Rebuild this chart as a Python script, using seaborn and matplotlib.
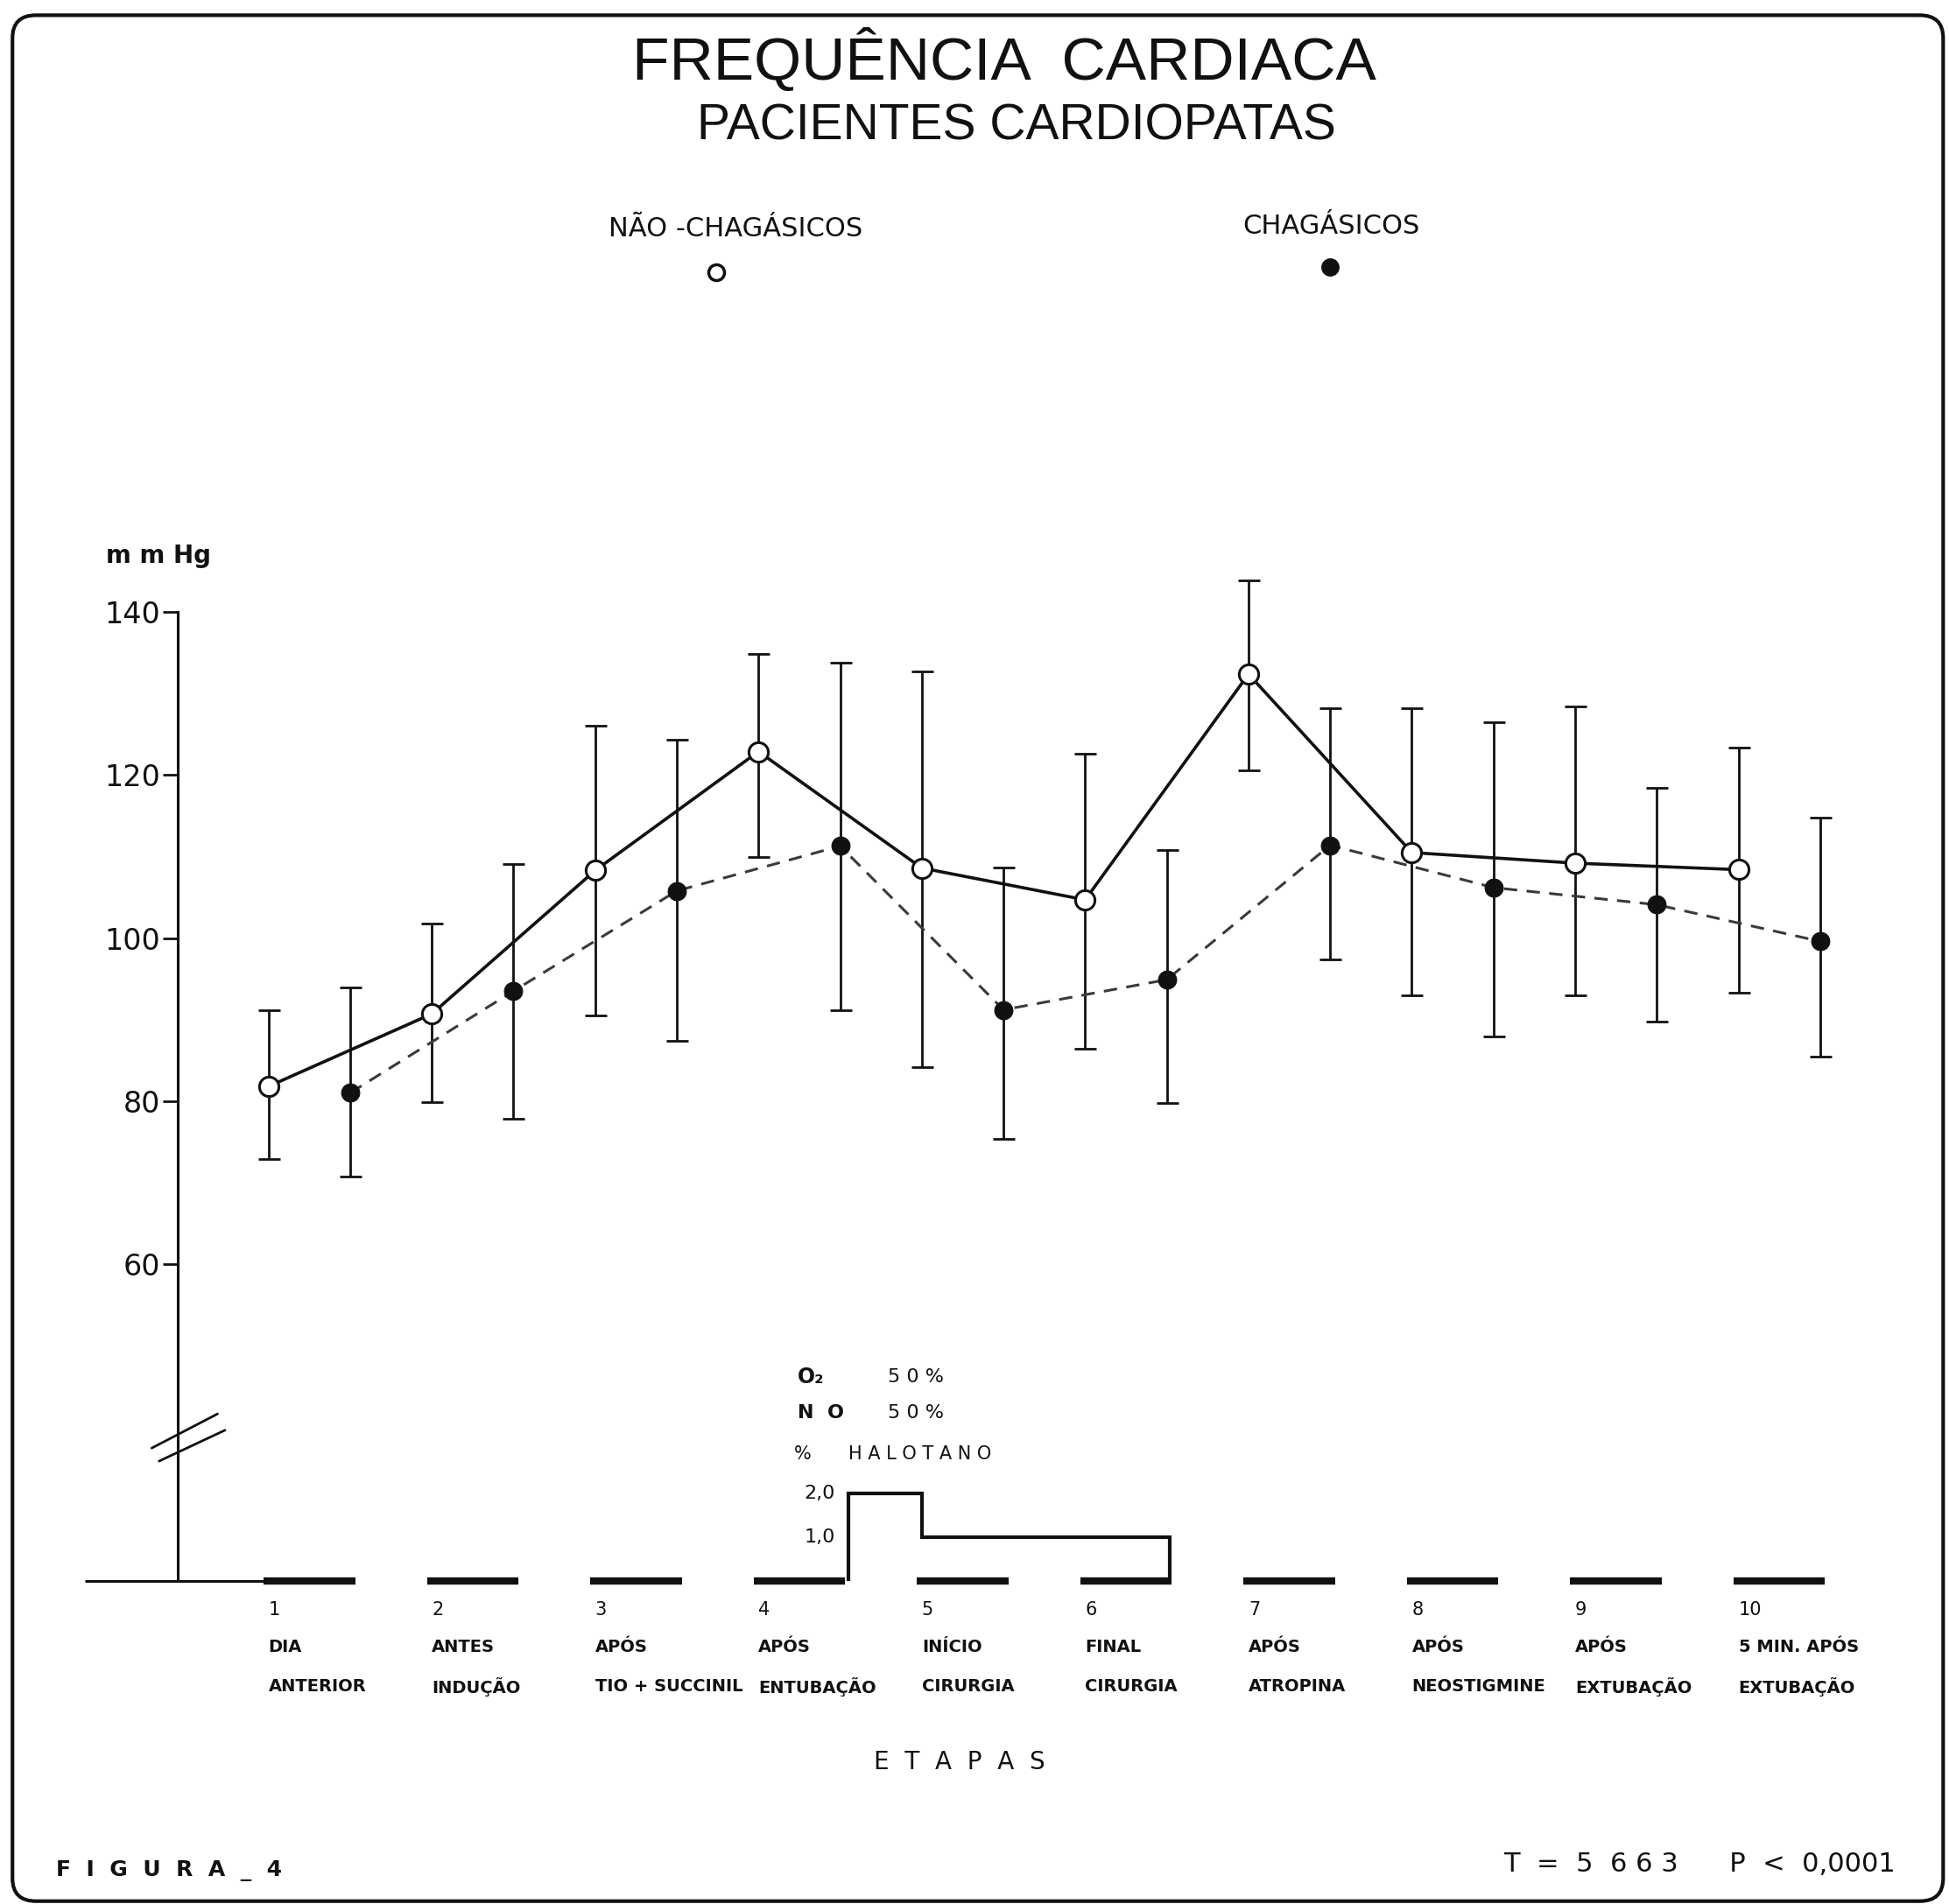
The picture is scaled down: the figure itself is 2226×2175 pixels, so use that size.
import numpy as np
import pandas as pd
import matplotlib.pyplot as plt
import seaborn as sns
from matplotlib.lines import Line2D
from matplotlib.patches import FancyBboxPatch
from matplotlib.transforms import blended_transform_factory

# etapas 1..10 ; chagasicos are drawn half a step to the right of each stage
stages = [1, 2, 3, 4, 5, 6, 7, 8, 9, 10]
stage_top = ["DIA", "ANTES", "APÓS", "APÓS", "INÍCIO", "FINAL", "APÓS", "APÓS", "APÓS", "5 MIN. APÓS"]
stage_bottom = ["ANTERIOR", "INDUÇÃO", "TIO + SUCCINIL", "ENTUBAÇÃO", "CIRURGIA",
                "CIRURGIA", "ATROPINA", "NEOSTIGMINE", "EXTUBAÇÃO", "EXTUBAÇÃO"]

# nao-chagasicos (open circles, solid line)
nao_mean = [81.8, 90.7, 108.3, 122.9, 108.6, 104.7, 132.4, 110.5, 109.2, 108.4]
nao_low = [72.9, 79.9, 90.5, 110.0, 84.2, 86.4, 120.6, 93.0, 93.0, 93.3]
nao_high = [91.1, 101.8, 126.1, 134.9, 132.7, 122.6, 143.9, 128.2, 128.4, 123.4]

# chagasicos (filled circles, dashed line)
chag_mean = [81.0, 93.5, 105.8, 111.3, 91.2, 94.9, 111.4, 106.2, 104.1, 99.6]
chag_low = [70.7, 77.8, 87.4, 91.1, 75.4, 79.8, 97.4, 87.9, 89.8, 85.5]
chag_high = [93.9, 109.1, 124.4, 133.8, 108.7, 110.8, 128.2, 126.5, 118.4, 114.8]

# % halotano step (edges on the stage axis)
hal_edges = [4.55, 5.0, 6.52]
hal_levels = [2.0, 1.0]

y_ticks = [60, 80, 100, 120, 140]

sns.set_theme(style="white")
plt.rcParams["font.family"] = ["DejaVu Sans"]
narrow = ["Liberation Sans Narrow", "Liberation Sans", "DejaVu Sans"]
ink = "#111111"

fig = plt.figure(figsize=(22.26, 21.75), dpi=100)
fig.patch.set_facecolor("white")

ax = fig.add_axes([0.0434, 0.1697, 0.9324, 0.5601])
ax.set_xlim(-0.126, 11.0)
ax.set_ylim(21.1, 152)
ax.set_facecolor("none")

# error bars first so markers sit on top
ax.errorbar(stages, nao_mean,
            yerr=[np.subtract(nao_mean, nao_low), np.subtract(nao_high, nao_mean)],
            fmt="none", ecolor=ink, elinewidth=2, capsize=9, capthick=2, zorder=3)
chag_x = np.array(stages) + 0.5
ax.errorbar(chag_x, chag_mean,
            yerr=[np.subtract(chag_mean, chag_low), np.subtract(chag_high, chag_mean)],
            fmt="none", ecolor=ink, elinewidth=2, capsize=9, capthick=2, zorder=3)

df_nao = pd.DataFrame({"etapa": stages, "fc": nao_mean})
df_chag = pd.DataFrame({"etapa": chag_x, "fc": chag_mean})

sns.lineplot(data=df_nao, x="etapa", y="fc", ax=ax, estimator=None, sort=False,
             color=ink, lw=2.6, marker="o", markersize=16, markerfacecolor="white",
             markeredgecolor=ink, markeredgewidth=2.2, zorder=5)
sns.lineplot(data=df_chag, x="etapa", y="fc", ax=ax, estimator=None, sort=False,
             color="#3a3a3a", lw=2.2, linestyle=(0, (5, 3.5)), marker="o", markersize=15,
             markerfacecolor=ink, markeredgecolor=ink, zorder=4)

# axis styling: only a left spine, placed just left of stage 1
for side in ["top", "right", "bottom"]:
    ax.spines[side].set_visible(False)
ax.spines["left"].set_position(("data", 0.444))
ax.spines["left"].set_bounds(21.1, 140)
ax.spines["left"].set_color(ink)
ax.spines["left"].set_linewidth(2.2)
ax.set_yticks(y_ticks)
ax.set_yticklabels([str(t) for t in y_ticks])
ax.set_xticks([])
ax.tick_params(axis="y", direction="out", length=12, width=2, color=ink,
               labelsize=24, pad=2, labelcolor=ink, left=True)
ax.set_xlabel("")
ax.set_ylabel("")
ax.grid(False)

# axis break marks
ax.plot([0.285, 0.688], [37.4, 41.6], color=ink, lw=2, clip_on=False, zorder=6)
ax.plot([0.33, 0.734], [35.8, 39.6], color=ink, lw=2, clip_on=False, zorder=6)

# halothane inset shares the stage axis
hx = ax.twinx()
hx.set_ylim(0, 24.51)
hx.set_facecolor("none")
for side in hx.spines:
    hx.spines[side].set_visible(False)
hx.set_yticks([])
hx.set_xticks([])
hx.grid(False)

stage_arr = np.array(stages, dtype=float)
hx.stairs(hal_levels, hal_edges, baseline=0, color=ink, lw=3, fill=False)
hx.hlines(np.zeros(len(stages)), stage_arr - 0.03, stage_arr + 0.53, color=ink, lw=6,
          clip_on=False)
hx.hlines(0, -0.126, 1.0, color=ink, lw=2.2, clip_on=False)
for lvl in hal_levels:
    hx.text(4.47, lvl, f"{lvl:.1f}".replace(".", ","), ha="right", va="center",
            fontsize=16, color=ink)
hx.text(4.24, 4.69, "O₂", ha="left", va="center", fontsize=17, color=ink, fontweight="bold")
hx.text(4.79, 4.69, "5 0 %", ha="left", va="center", fontsize=16, color=ink)
hx.text(4.24, 3.86, "N  O", ha="left", va="center", fontsize=16, color=ink, fontweight="bold")
hx.text(4.79, 3.86, "5 0 %", ha="left", va="center", fontsize=16, color=ink)
hx.text(4.22, 2.91, "%", ha="left", va="center", fontsize=15, color=ink)
hx.text(4.55, 2.91, "H A L O T A N O", ha="left", va="center", fontsize=15, color=ink)

# stage labels under the base line
tr = blended_transform_factory(ax.transData, fig.transFigure)
for s, top, bot in zip(stages, stage_top, stage_bottom):
    ax.text(s, 0.1547, str(s), transform=tr, ha="left", va="center",
            fontsize=15, color=ink)
    ax.text(s, 0.1351, top, transform=tr, ha="left", va="center",
            fontsize=14, fontweight="bold", color=ink)
    ax.text(s, 0.1142, bot, transform=tr, ha="left", va="center",
            fontsize=14, fontweight="bold", color=ink)

# titles and annotations
fig.text(0.5153, 0.9687, "FREQUÊNCIA  CARDIACA", ha="center", va="center",
         fontsize=50, family=narrow, color=ink)
fig.text(0.5217, 0.9334, "PACIENTES CARDIOPATAS", ha="center", va="center",
         fontsize=41, family=narrow, color=ink)

fig.text(0.3776, 0.8799, "NÃO -CHAGÁSICOS", ha="center", va="center", fontsize=22, color=ink)
fig.text(0.6830, 0.8812, "CHAGÁSICOS", ha="center", va="center", fontsize=22, color=ink)
fig.add_artist(Line2D([0.3673], [0.857], transform=fig.transFigure, marker="o",
                      markersize=13, markerfacecolor="white", markeredgecolor=ink,
                      markeredgewidth=2.5, linestyle="none"))
fig.add_artist(Line2D([0.6824], [0.8597], transform=fig.transFigure, marker="o",
                      markersize=14, markerfacecolor=ink, markeredgecolor=ink,
                      linestyle="none"))

fig.text(0.0542, 0.7082, "m m Hg", ha="left", va="center", fontsize=20,
         fontweight="bold", color=ink)
fig.text(0.4923, 0.0744, "E  T  A  P  A  S", ha="center", va="center", fontsize=20, color=ink)
fig.text(0.0287, 0.0176, "F  I  G  U  R  A  _  4", ha="left", va="center", fontsize=18,
         fontweight="bold", color=ink)
fig.text(0.9726, 0.0209, "T  =  5  6 6 3      P  <  0,0001", ha="right", va="center",
         fontsize=22, color=ink)

# rounded frame around the whole figure
frame = FancyBboxPatch((0.0064, 0.0015), 0.9906, 0.9905,
                       boxstyle="round,pad=0,rounding_size=0.012",
                       transform=fig.transFigure, fill=False, lw=3, ec=ink)
fig.add_artist(frame)

fig.savefig("out.png", dpi=100)
